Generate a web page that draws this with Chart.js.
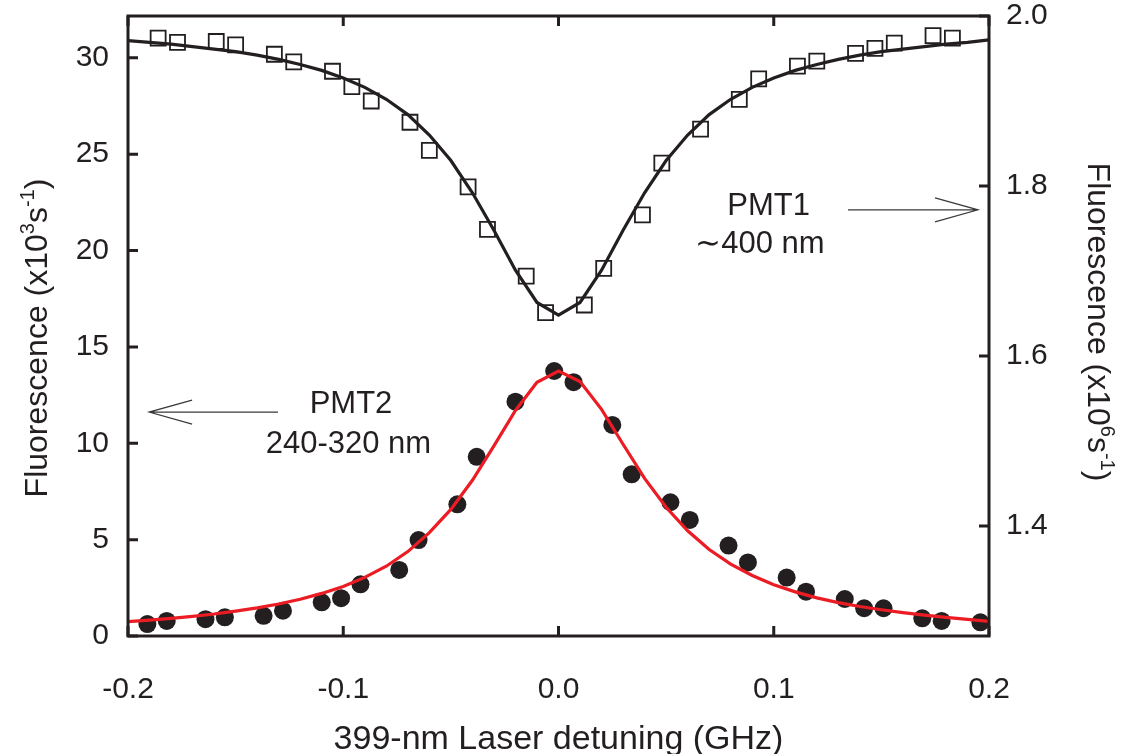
<!DOCTYPE html>
<html><head><meta charset="utf-8">
<script src="https://cdn.jsdelivr.net/npm/chart.js@4/dist/chart.umd.min.js"></script>
<style>html,body{margin:0;padding:0;background:#fff}canvas{display:block}</style>
</head><body>
<canvas id="c" width="1129" height="754"></canvas>
<script>
// ---------------- data ----------------
const fitX = [-0.20,-0.19,-0.18,-0.17,-0.16,-0.15,-0.14,-0.13,-0.12,-0.11,-0.10,-0.09,-0.08,-0.07,-0.06,-0.05,-0.04,-0.03,-0.02,-0.01,0.00,
              0.01,0.02,0.03,0.04,0.05,0.06,0.07,0.08,0.09,0.10,0.11,0.12,0.13,0.14,0.15,0.16,0.17,0.18,0.19,0.20];
// PMT1 fit (right axis, x10^6 s^-1)
const pmt1Fit = [1.971,1.969,1.967,1.964,1.961,1.958,1.954,1.949,1.943,1.936,1.927,1.916,1.902,1.884,1.860,1.830,1.792,1.748,1.701,1.663,1.648,
                 1.663,1.701,1.748,1.792,1.830,1.860,1.884,1.902,1.916,1.927,1.936,1.943,1.949,1.954,1.958,1.961,1.964,1.967,1.969,1.972];
// PMT2 fit (left axis, x10^3 s^-1)
const pmt2Fit = [0.75,0.82,0.91,1.02,1.14,1.29,1.46,1.66,1.91,2.21,2.57,3.04,3.62,4.38,5.36,6.57,8.08,9.86,11.70,13.16,13.75,
                 13.20,11.76,9.95,8.18,6.68,5.46,4.49,3.73,3.14,2.66,2.29,1.98,1.73,1.53,1.36,1.21,1.08,0.97,0.86,0.76];
// PMT1 measured (open squares, right axis)
const pmt1X = [-0.186,-0.177,-0.159,-0.150,-0.132,-0.123,-0.105,-0.096,-0.087,-0.069,-0.060,-0.042,-0.033,-0.015,-0.006,
               0.012,0.021,0.039,0.048,0.066,0.084,0.093,0.111,0.120,0.138,0.147,0.156,0.174,0.183];
const pmt1Y = [1.974,1.969,1.970,1.966,1.955,1.946,1.935,1.917,1.900,1.875,1.842,1.799,1.749,1.694,1.651,
               1.660,1.703,1.766,1.827,1.867,1.902,1.926,1.941,1.947,1.956,1.962,1.968,1.977,1.974];
// PMT2 measured (filled circles, left axis)
const pmt2X = [-0.191,-0.182,-0.164,-0.155,-0.137,-0.128,-0.110,-0.101,-0.092,-0.074,-0.065,-0.047,-0.038,-0.020,-0.002,
               0.007,0.025,0.034,0.052,0.061,0.079,0.088,0.106,0.115,0.133,0.142,0.151,0.169,0.178,0.196];
const pmt2Y = [0.62,0.78,0.87,0.97,1.05,1.31,1.75,1.96,2.68,3.43,4.98,6.83,9.30,12.16,13.75,
               13.17,10.95,8.39,6.94,6.02,4.69,3.82,3.03,2.30,1.92,1.44,1.44,0.92,0.78,0.71];
const xTicks = [-0.2,-0.1,0.0,0.1,0.2];
const leftTicks = [0,5,10,15,20,25,30];
const rightTicks = [1.4,1.6,1.8,2.0];
const xTitle = '399-nm Laser detuning (GHz)';
const leftTitle = [{t:'Fluorescence (x10'},{t:'3',sup:true},{t:'s'},{t:'-1',sup:true},{t:')'}];
const rightTitle = [{t:'Fluorescence (x10'},{t:'6',sup:true},{t:'s'},{t:'-1',sup:true},{t:')'}];

// ---------------- style ----------------
const INK = '#231f20';
const RED = '#ec1c24';
const FONT = '"Liberation Sans", Arial, Helvetica, sans-serif';
const TICK_SIZE = 30, XTITLE_SIZE = 34, YTITLE_SIZE = 32, NOTE_SIZE = 31;

const zip = (xs, ys) => xs.map((x, i) => ({x, y: ys[i]}));

function drawRich(ctx, parts, size) {
  let w = 0;
  const items = parts.map(p => {
    const s = p.sup ? Math.round(size * 0.62) : size;
    ctx.font = s + 'px ' + FONT;
    const m = ctx.measureText(p.t).width;
    w += m;
    return {t: p.t, s, m, sup: p.sup};
  });
  let x = -w / 2;
  for (const it of items) {
    ctx.font = it.s + 'px ' + FONT;
    ctx.fillText(it.t, x, it.sup ? -size * 0.40 : 0);
    x += it.m;
  }
}

function arrow(ctx, x1, y, x2) {
  const dir = Math.sign(x2 - x1);
  ctx.beginPath();
  ctx.moveTo(x1, y); ctx.lineTo(x2, y);
  ctx.moveTo(x2 - dir * 43, y - 12); ctx.lineTo(x2, y); ctx.lineTo(x2 - dir * 43, y + 12);
  ctx.stroke();
}

const decor = {
  id: 'decor',
  afterDatasetsDraw(chart) {
    const {ctx, chartArea: a, scales} = chart;
    const sx = scales.x, sy = scales.y, sy2 = scales.y2;
    ctx.save();
    // frame
    ctx.strokeStyle = INK; ctx.lineWidth = 3; ctx.lineCap = 'butt';
    ctx.strokeRect(a.left, a.top, a.right - a.left, a.bottom - a.top);
    // inward ticks
    const TL = 10;
    ctx.beginPath();
    xTicks.forEach(v => {
      const p = sx.getPixelForValue(v);
      ctx.moveTo(p, a.bottom); ctx.lineTo(p, a.bottom - TL);
      ctx.moveTo(p, a.top); ctx.lineTo(p, a.top + TL);
    });
    leftTicks.forEach(v => {
      const p = sy.getPixelForValue(v);
      ctx.moveTo(a.left, p); ctx.lineTo(a.left + TL, p);
    });
    rightTicks.forEach(v => {
      const p = sy2.getPixelForValue(v);
      ctx.moveTo(a.right, p); ctx.lineTo(a.right - TL, p);
    });
    ctx.stroke();

    // annotations
    ctx.fillStyle = INK;
    ctx.textAlign = 'center'; ctx.textBaseline = 'alphabetic';
    ctx.font = NOTE_SIZE + 'px ' + FONT;
    ctx.fillText('PMT1', sx.getPixelForValue(0.0976), sy2.getPixelForValue(1.766));
    ctx.fillText('\u223C400 nm', sx.getPixelForValue(0.0936), sy2.getPixelForValue(1.721));
    ctx.fillText('PMT2', sx.getPixelForValue(-0.0964), sy.getPixelForValue(11.57));
    ctx.fillText('240-320 nm', sx.getPixelForValue(-0.0976), sy.getPixelForValue(9.50));

    ctx.strokeStyle = '#3a3a3a'; ctx.lineWidth = 1.2;
    const yA1 = sy2.getPixelForValue(1.772);
    arrow(ctx, sx.getPixelForValue(0.1345), yA1, sx.getPixelForValue(0.1949));
    const yA2 = sy.getPixelForValue(11.62);
    arrow(ctx, sx.getPixelForValue(-0.1303), yA2, sx.getPixelForValue(-0.1902));

    // axis titles
    ctx.fillStyle = INK;
    ctx.textBaseline = 'alphabetic';
    ctx.save();
    ctx.textAlign = 'center';
    ctx.font = XTITLE_SIZE + 'px ' + FONT;
    ctx.fillText(xTitle, (a.left + a.right) / 2, a.bottom + 113);
    ctx.restore();

    ctx.textAlign = 'left';
    ctx.save();
    ctx.translate(a.left - 93, (a.top + a.bottom) / 2 + 12);
    ctx.rotate(-Math.PI / 2);
    ctx.translate(0, YTITLE_SIZE * 0.36);
    drawRich(ctx, leftTitle, YTITLE_SIZE);
    ctx.restore();

    ctx.save();
    ctx.translate(a.right + 111, (a.top + a.bottom) / 2 - 4);
    ctx.rotate(Math.PI / 2);
    ctx.translate(0, YTITLE_SIZE * 0.36);
    drawRich(ctx, rightTitle, YTITLE_SIZE);
    ctx.restore();

    ctx.restore();
  }
};

const tickFont = {family: FONT, size: TICK_SIZE};
const setTicks = arr => scale => { scale.ticks = arr.map(v => ({value: v})); };
const noPad = s => { s.paddingTop = 0; s.paddingBottom = 0; s.paddingLeft = 0; s.paddingRight = 0; };

new Chart(document.getElementById('c'), {
  type: 'scatter',
  data: {
    datasets: [
      {label: 'PMT2 fit', data: zip(fitX, pmt2Fit), yAxisID: 'y', showLine: true,
       borderColor: RED, borderWidth: 3.2, pointRadius: 0, fill: false, order: 0, clip: false},
      {label: 'PMT2', data: zip(pmt2X, pmt2Y), yAxisID: 'y', pointStyle: 'circle', pointRadius: 9,
       backgroundColor: INK, borderColor: INK, borderWidth: 0, order: 1, clip: false},
      {label: 'PMT1 fit', data: zip(fitX, pmt1Fit), yAxisID: 'y2', showLine: true,
       borderColor: INK, borderWidth: 3.2, pointRadius: 0, fill: false, order: 2, clip: false},
      {label: 'PMT1', data: zip(pmt1X, pmt1Y), yAxisID: 'y2', pointStyle: 'rect', pointRadius: 10.6,
       backgroundColor: 'rgba(0,0,0,0)', borderColor: INK, borderWidth: 1.8, order: 3, clip: false}
    ]
  },
  options: {
    responsive: false,
    animation: false,
    events: [],
    layout: {padding: {top: 16, left: 0, right: 0, bottom: 0}, autoPadding: false},
    plugins: {legend: {display: false}, tooltip: {enabled: false}},
    scales: {
      x: {
        type: 'linear', position: 'bottom', min: -0.2, max: 0.2,
        afterBuildTicks: setTicks(xTicks),
        afterFit: s => { s.height = 118; noPad(s); },
        grid: {display: false, drawTicks: false}, border: {display: false},
        ticks: {font: tickFont, color: INK, padding: 36, maxRotation: 0, autoSkip: false,
                callback: v => Number(v).toFixed(1)}
      },
      y: {
        type: 'linear', position: 'left', min: 0, max: 32.17,
        afterBuildTicks: setTicks(leftTicks),
        afterFit: s => { s.width = 128; noPad(s); },
        grid: {display: false, drawTicks: false}, border: {display: false},
        ticks: {font: tickFont, color: INK, padding: 19, callback: v => String(v)}
      },
      y2: {
        type: 'linear', position: 'right', min: 1.2706, max: 2.0,
        afterBuildTicks: setTicks(rightTicks),
        afterFit: s => { s.width = 140; noPad(s); },
        grid: {display: false, drawTicks: false}, border: {display: false},
        ticks: {font: tickFont, color: INK, padding: 17, callback: v => Number(v).toFixed(1)}
      }
    }
  },
  plugins: [decor]
});
</script>
</body></html>
